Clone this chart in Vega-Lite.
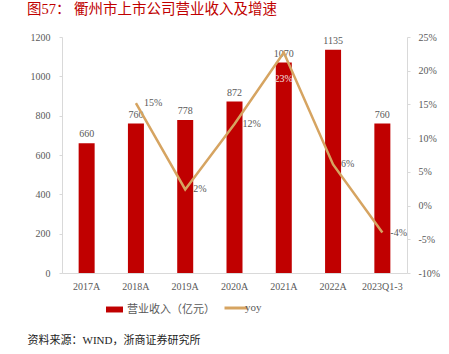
{
  "$schema": "https://vega.github.io/schema/vega-lite/v6.json",
  "autosize": {"type": "none"},
  "width": 345,
  "height": 236,
  "padding": {"left": 62, "top": 37, "right": 42, "bottom": 81},
  "background": "white",
  "config": {
    "view": {"stroke": null},
    "font": "Liberation Serif, Noto Sans CJK SC",
    "text": {"font": "Liberation Serif, Noto Sans CJK SC"},
    "locale": {"number": {"decimal": ".", "thousands": ",", "grouping": [3], "currency": ["$", ""], "minus": "-"}}
  },
  "title": {
    "text": "图57：  衢州市上市公司营业收入及增速",
    "anchor": "start",
    "frame": "group",
    "dx": -35,
    "offset": 15,
    "color": "#C00000",
    "fontSize": 14.5,
    "fontWeight": "normal",
    "font": "Liberation Serif, Noto Sans CJK SC"
  },
  "data": {
    "values": [
      {"year": "2017A", "revenue": 660, "yoy": null},
      {"year": "2018A", "revenue": 760, "yoy": 0.152},
      {"year": "2019A", "revenue": 778, "yoy": 0.024},
      {"year": "2020A", "revenue": 872, "yoy": 0.121},
      {"year": "2021A", "revenue": 1070, "yoy": 0.227},
      {"year": "2022A", "revenue": 1135, "yoy": 0.061},
      {"year": "2023Q1-3", "revenue": 760, "yoy": -0.04}
    ]
  },
  "encoding": {
    "x": {
      "field": "year",
      "type": "nominal",
      "sort": null,
      "axis": {
        "title": "资料来源：WIND，浙商证券研究所",
        "titleX": -35,
        "titleY": 67,
        "titleAlign": "left",
        "titleAnchor": "start",
        "titleBaseline": "middle",
        "titleFontSize": 11,
        "titleFontWeight": "normal",
        "titleColor": "#222222",
        "titleFont": "Liberation Serif, Noto Sans CJK SC",
        "labelAngle": 0,
        "labelColor": "#595959",
        "labelFontSize": 10,
        "labelFont": "Liberation Serif",
        "labelPadding": 8,
        "ticks": false,
        "domainColor": "#d9d9d9",
        "grid": false
      }
    }
  },
  "layer": [
    {
      "encoding": {
        "y": {
          "field": "revenue",
          "type": "quantitative",
          "scale": {"domain": [0, 1200]},
          "axis": {
            "orient": "left",
            "title": null,
            "format": "d",
            "values": [0, 200, 400, 600, 800, 1000, 1200],
            "grid": false,
            "domainColor": "#d9d9d9",
            "tickColor": "#d9d9d9",
            "tickSize": 3,
            "labelColor": "#595959",
            "labelFontSize": 10,
            "labelFont": "Liberation Serif",
            "labelPadding": 9
          }
        }
      },
      "layer": [
        {
          "mark": {"type": "bar", "size": 16, "color": "#C00000"},
          "encoding": {
            "fill": {
              "datum": "营业收入（亿元）",
              "type": "nominal",
              "scale": {"range": ["#C00000"]},
              "legend": {
                "orient": "none",
                "legendX": 44,
                "legendY": 264,
                "direction": "horizontal",
                "title": null,
                "symbolType": "M-1,-0.35H1V0.35H-1Z",
                "symbolSize": 289,
                "symbolStrokeWidth": 0,
                "labelColor": "#595959",
                "labelFontSize": 11,
                "labelFont": "Liberation Serif, Noto Sans CJK SC"
              }
            }
          }
        },
        {
          "mark": {"type": "text", "dy": -9, "color": "#595959", "fontSize": 10, "font": "Liberation Serif"},
          "encoding": {"text": {"field": "revenue", "type": "quantitative", "format": "d"}}
        }
      ]
    },
    {
      "transform": [{"filter": "datum.yoy != null"}],
      "encoding": {
        "y": {
          "field": "yoy",
          "type": "quantitative",
          "scale": {"domain": [-0.1, 0.25]},
          "axis": {
            "orient": "right",
            "title": null,
            "format": ".0%",
            "values": [-0.1, -0.05, 0, 0.05, 0.1, 0.15, 0.2, 0.25],
            "grid": false,
            "domainColor": "#d9d9d9",
            "tickColor": "#d9d9d9",
            "tickSize": 3,
            "labelColor": "#595959",
            "labelFontSize": 10,
            "labelFont": "Liberation Serif",
            "labelPadding": 8
          }
        }
      },
      "layer": [
        {
          "mark": {"type": "line", "strokeWidth": 2.5},
          "encoding": {
            "stroke": {
              "datum": "yoy",
              "type": "nominal",
              "scale": {"range": ["#D6A461"]},
              "legend": {
                "orient": "none",
                "legendX": 161,
                "legendY": 258,
                "direction": "horizontal",
                "title": null,
                "symbolType": "stroke",
                "symbolSize": 529,
                "symbolStrokeWidth": 3,
                "labelColor": "#595959",
                "labelFontSize": 11,
                "labelOffset": -4,
                "labelFont": "Liberation Serif, Noto Sans CJK SC"
              }
            }
          }
        },
        {
          "transform": [{"filter": "datum.year != '2021A'"}],
          "mark": {"type": "text", "align": "left", "dx": 8, "dy": 0, "color": "#595959", "fontSize": 10, "font": "Liberation Serif"},
          "encoding": {"text": {"field": "yoy", "type": "quantitative", "format": ".0%"}}
        },
        {
          "transform": [{"filter": "datum.year == '2021A'"}],
          "mark": {"type": "text", "align": "center", "dy": 26, "color": "#f0e0e0", "fontSize": 10, "font": "Liberation Serif"},
          "encoding": {"text": {"field": "yoy", "type": "quantitative", "format": ".0%"}}
        }
      ]
    }
  ],
  "resolve": {"scale": {"y": "independent"}}
}
